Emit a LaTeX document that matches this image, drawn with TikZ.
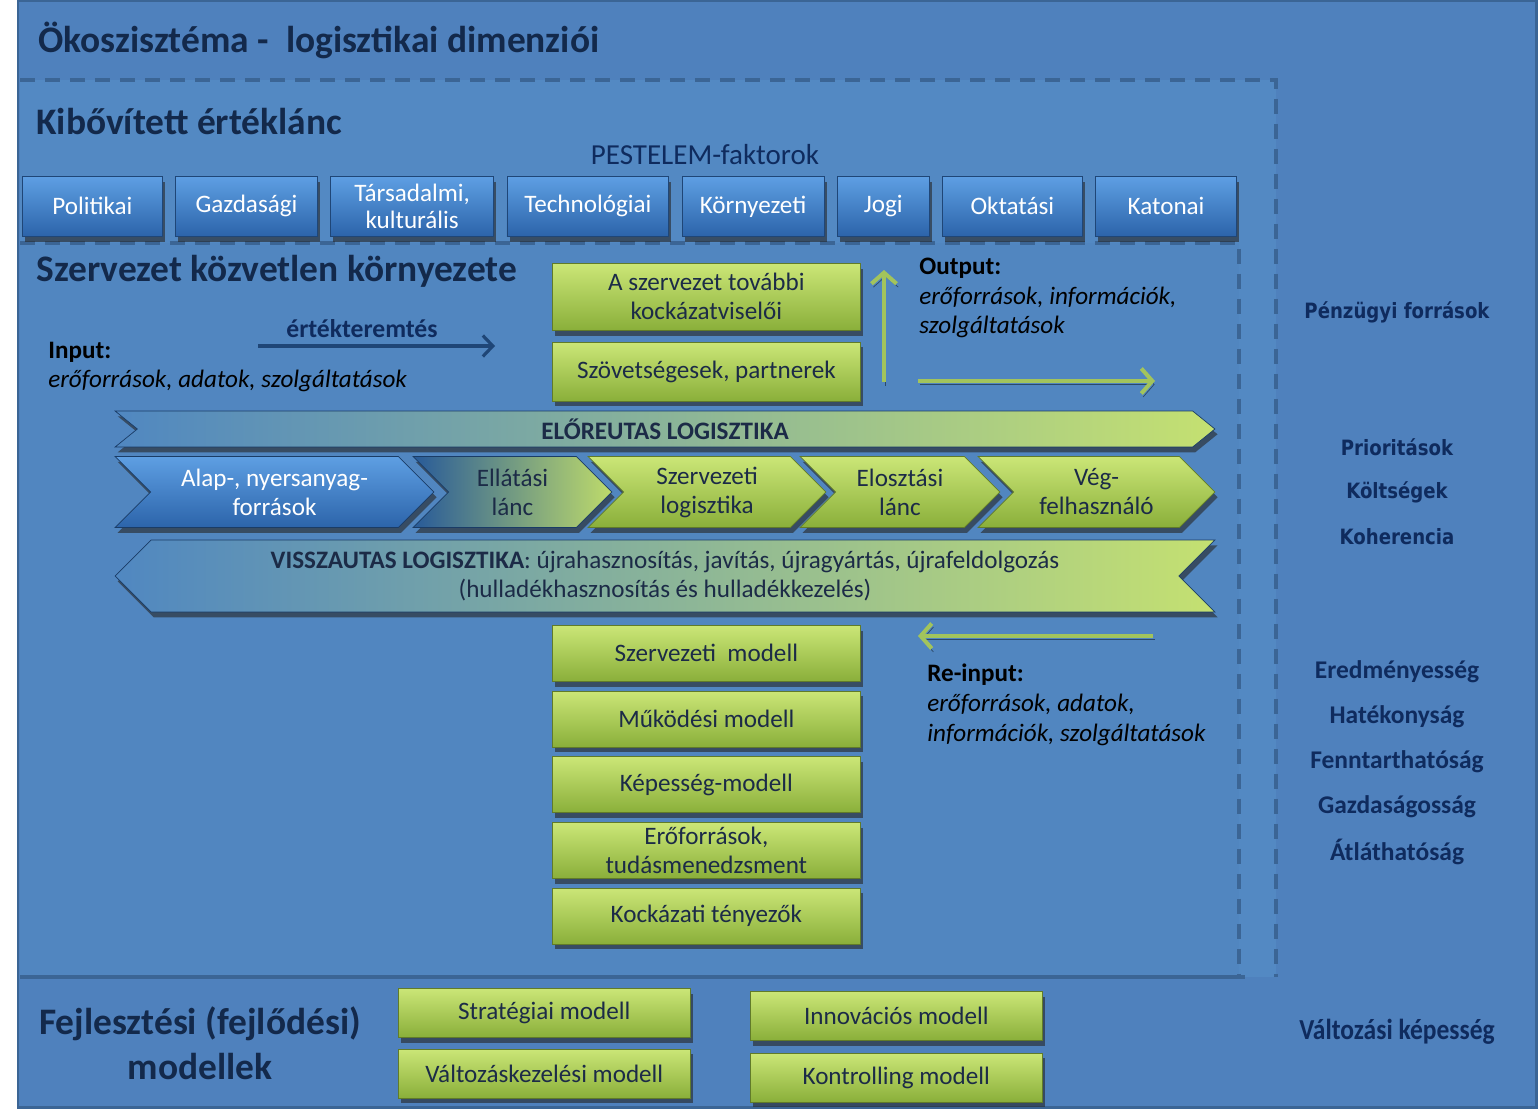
\documentclass[tikz,border=0pt]{standalone}
\usepackage{fontspec}
\setmainfont{Carlito}
\newfontfamily\tahomafont[FakeStretch=0.86]{DejaVu Sans}
\newfontfamily\narrowfont[FakeStretch=0.88]{Carlito}
\usetikzlibrary{arrows.meta, positioning, shapes.symbols, shadows}
\definecolor{ecoblue}{HTML}{4F81BD}
\definecolor{ecoregion}{HTML}{5389C3}
\definecolor{ecoinner}{HTML}{5186C0}
\definecolor{ecoedge}{HTML}{3B6595}
\definecolor{ecodark}{HTML}{13294B}
\definecolor{econavy}{HTML}{0F2B5E}
\definecolor{ecogreenT}{HTML}{CBE677}
\definecolor{ecogreenB}{HTML}{8AAF3A}
\definecolor{ecoblueT}{HTML}{5E9FE3}
\definecolor{ecoblueB}{HTML}{2C64AA}
\definecolor{ecoarrow}{HTML}{A2C45C}
\definecolor{ecotext}{HTML}{1C2B47}

\begin{document}
\begin{tikzpicture}[x=0.02cm, y=-0.02cm,
    heading/.style={anchor=west, inner sep=0pt, text=ecodark,
                    font=\fontsize{21.3}{25}\selectfont\bfseries},
    boxshadow/.style={drop shadow={shadow xshift=1.5pt, shadow yshift=-3pt,
                      fill=black!85, opacity=0.6}},
    factor/.style={rectangle, draw=ecoblueB!70!black, top color=ecoblueT, bottom color=ecoblueB,
                   text=white, minimum height=1.2cm, inner sep=1pt, align=center,
                   font=\fontsize{14.3}{15.5}\selectfont, boxshadow},
    modelbox/.style={rectangle, draw=ecogreenB!70!black, top color=ecogreenT, bottom color=ecogreenB,
                     text=ecotext, minimum width=6.16cm, minimum height=1.12cm, inner sep=1pt,
                     align=center, font=\fontsize{14.3}{16.5}\selectfont, boxshadow},
    devbox/.style={modelbox, minimum width=5.84cm, minimum height=0.98cm},
    chevron/.style={signal, signal to=east, signal from=west, signal pointer angle=90,
                    draw=ecoblueB!60!black, minimum height=1.42cm, inner sep=0pt, align=center,
                    text=ecotext, font=\fontsize{14.3}{16.5}\selectfont, boxshadow},
    greenchev/.style={chevron, draw=ecogreenB!70!black, top color=ecogreenT, bottom color=ecogreenB},
    band/.style={signal, draw=ecoblueB!60!black, left color=ecoblueT!85!black, right color=ecogreenT!90!ecogreenB,
                 minimum width=22cm, inner sep=0pt, align=center, text=ecotext,
                 font=\fontsize{14.3}{16.5}\selectfont, boxshadow},
    frame/.style={ecoedge, line width=2.3pt, dash pattern=on 0.3cm off 0.2cm},
    greenflow/.style={-{Straight Barb[length=0.22cm, width=0.5cm]}, ecoarrow, line width=2.3pt,
                      preaction={draw=black, opacity=0.45, transform canvas={xshift=1pt, yshift=-2pt}}},
    navyflow/.style={-{Straight Barb[length=0.2cm, width=0.42cm]}, ecoblueB!70!black, line width=1.8pt},
    flowtext/.style={anchor=west, inner sep=0pt, align=left, text=black,
                     font=\fontsize{14.3}{17}\selectfont},
    sidenote/.style={inner sep=0pt, text=econavy, font=\tahomafont\fontsize{12}{14}\selectfont\bfseries},
    measure/.style={inner sep=0pt, text=econavy, font=\fontsize{14.5}{17}\selectfont\bfseries}
  ]
    \useasboundingbox (0,0) rectangle (1538,1118);
    % background and frames
    \fill[white] (0,0) rectangle (1538,1118);
    \filldraw[fill=ecoblue, draw=ecoedge, line width=1.7pt] (18,1) rectangle (1536,1107);
    \fill[ecoregion] (20,80) rectangle (1276,977);
    \fill[ecoinner] (20,243) rectangle (1239,977);
    \draw[frame] (20,80) -- (1276,80) -- (1276,977);
    \draw[frame] (20,243) -- (1239,243) -- (1239,977);
    \draw[ecoedge, line width=2.3pt] (20,977) -- (1245,977);

    \node[heading] (eco) at (38,40) {Ökoszisztéma -\ \ logisztikai dimenziói};
    \node[heading] (chain) at (36,122) {Kibővített értéklánc};
    \node[heading] (direct) at (36,271) {Szervezet közvetlen környezete};

    % PESTELEM row
    \node[text=econavy, inner sep=0pt, font=\fontsize{16.5}{19}\selectfont] (pestelem) at (705,155) {PESTELEM-faktorok};
    \node[factor, minimum width=2.8cm, anchor=north west] (pol) at (22,176) {Politikai};
    \node[factor, minimum width=2.84cm, right=0.25cm of pol] (gaz) {Gazdasági};
    \node[factor, minimum width=3.26cm, right=0.25cm of gaz] (tars) {Társadalmi,\\kulturális};
    \node[factor, minimum width=3.24cm, right=0.25cm of tars] (tech) {Technológiai};
    \node[factor, minimum width=2.84cm, right=0.25cm of tech] (korny) {Környezeti};
    \node[factor, minimum width=1.84cm, right=0.25cm of korny] (jogi) {Jogi};
    \node[factor, minimum width=2.8cm, right=0.25cm of jogi] (okt) {Oktatási};
    \node[factor, minimum width=2.82cm, right=0.25cm of okt] (kat) {Katonai};

    % stakeholders
    \node[modelbox, minimum height=1.34cm, anchor=north west] (risk) at (552,263) {A szervezet további\\kockázatviselői};
    \node[modelbox, minimum height=1.18cm, below=0.22cm of risk] (ally) {Szövetségesek, partnerek};

    % input / output
    \node[inner sep=0pt, text=econavy, font=\fontsize{14.6}{17}\selectfont\bfseries] (value) at (362,329) {értékteremtés};
    \coordinate (valfoot) at (258,346);
    \coordinate (valhead) at (495,346);
    \draw[navyflow] (valfoot) -- (valhead);
    \node[flowtext] (input) at (48,367) {\textbf{Input:}\\\textit{erőforrások, adatok, szolgáltatások}};
    \node[flowtext] (output) at (919,298) {\textbf{Output:}\\\textit{erőforrások, információk,}\\\textit{szolgáltatások}};
    \coordinate (upfoot) at (884,382);
    \coordinate (uphead) at (884,270);
    \draw[greenflow] (upfoot) -- (uphead);
    \coordinate (outfoot) at (918,381);
    \coordinate (outhead) at (1155,381);
    \draw[greenflow] (outfoot) -- (outhead);

    % forward logistics
    \node[band, signal to=east, signal from=west, signal pointer angle=78, minimum height=0.72cm] (forward) at (665,429) {\textbf{ELŐREUTAS LOGISZTIKA}};
    \node[chevron, minimum width=6.38cm, top color=ecoblueT, bottom color=ecoblueB, text=white] (raw) at (274.5,492) {Alap-, nyersanyag-\\források};
    \node[chevron, minimum width=3.98cm, left color=ecoblueB!90!black, right color=ecogreenT!80!ecogreenB] (supply) at (512.5,492) {Ellátási\\lánc};
    \node[greenchev, minimum width=4.76cm] (orglog) at (707,492) {Szervezeti\\logisztika};
    \node[greenchev, minimum width=4cm] (distrib) at (900,492) {Elosztási\\lánc};
    \node[greenchev, minimum width=4.74cm] (enduser) at (1096.5,492) {Vég-\\felhasználó};

    % reverse logistics
    \node[band, signal to=west, signal from=east, signal pointer angle=90, minimum height=1.44cm] (reverse) at (665,576) {\textbf{VISSZAUTAS LOGISZTIKA}: újrahasznosítás, javítás, újragyártás, újrafeldolgozás\\(hulladékhasznosítás és hulladékkezelés)};
    \coordinate (refoot) at (1153,636);
    \coordinate (rehead) at (918,636);
    \draw[greenflow] (refoot) -- (rehead);
    \node[flowtext] (reinput) at (927,705) {\textbf{Re-input:}\\\textit{erőforrások, adatok,}\\\textit{információk, szolgáltatások}};

    % organisational models
    \node[modelbox, anchor=north west] (orgmodel) at (552,625) {Szervezeti\ \ modell};
    \node[modelbox, below=0.18cm of orgmodel] (opmodel) {Működési modell};
    \node[modelbox, below=0.18cm of opmodel] (capmodel) {Képesség-modell};
    \node[modelbox, below=0.18cm of capmodel] (resmodel) {Erőforrások,\\tudásmenedzsment};
    \node[modelbox, below=0.18cm of resmodel] (riskmodel) {Kockázati tényezők};

    % development models
    \node[heading, anchor=center, align=center, font=\fontsize{21.3}{25.6}\selectfont\bfseries] (devel) at (200,1043) {Fejlesztési (fejlődési)\\modellek};
    \node[devbox, anchor=north west] (strat) at (398,988) {Stratégiai modell};
    \node[devbox, below=0.22cm of strat] (change) {Változáskezelési modell};
    \node[devbox, anchor=north west] (innov) at (750,991) {Innovációs modell};
    \node[devbox, below=0.24cm of innov] (control) {Kontrolling modell};

    % right column
    \node[sidenote] (finance) at (1397,312) {Pénzügyi források};
    \node[sidenote] (prior) at (1397,447) {Prioritások};
    \node[sidenote] (cost) at (1397,492) {Költségek};
    \node[sidenote] (coher) at (1397,537) {Koherencia};
    \node[measure] (result) at (1397,672) {Eredményesség};
    \node[measure] (effic) at (1397,717) {Hatékonyság};
    \node[measure] (sustain) at (1397,762) {Fenntarthatóság};
    \node[measure] (econ) at (1397,807) {Gazdaságosság};
    \node[measure] (transp) at (1397,852) {Átláthatóság};
    \node[measure, font=\narrowfont\fontsize{16.5}{19}\selectfont\bfseries] (change cap) at (1397,1032) {Változási képesség};
  \end{tikzpicture}
\end{document}
